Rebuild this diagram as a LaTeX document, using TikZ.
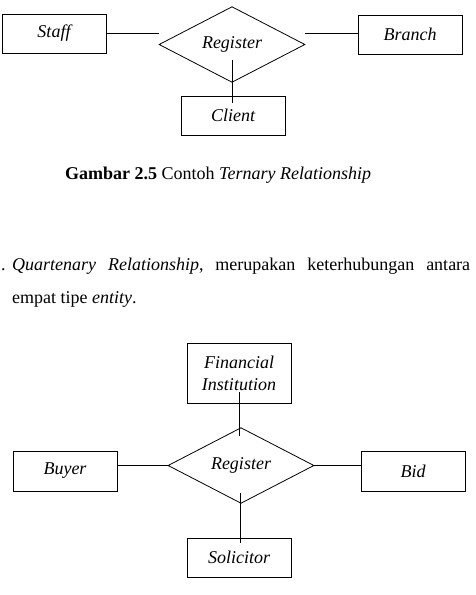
\documentclass[tikz,border=0pt]{standalone}
\usepackage{fontspec}
\setmainfont{Liberation Serif}
\usetikzlibrary{shapes.geometric}
\begin{document}
\begin{tikzpicture}[x=1pt,y=-1pt,
  every node/.style={font=\fontsize{18}{22}\selectfont},
  entity/.style={draw,line width=0.8pt,minimum width=104pt,minimum height=39pt,inner sep=0pt,font=\fontsize{18}{22}\selectfont\itshape,align=center},
  rel/.style={draw,diamond,line width=0.8pt,minimum width=146pt,minimum height=71pt,inner sep=0pt,font=\fontsize{18}{22}\selectfont\itshape},
  conn/.style={line width=0.8pt},
  txt/.style={inner sep=0pt,anchor=base west}]
\useasboundingbox (0,0) rectangle (476,595);
% top diagram
\node[entity] (staff) at (54,33.5) {Staff};
\node[entity] (branch) at (410,34.5) {Branch};
\node[entity] (client) at (233,115.5) {Client};
\node[rel] (reg) at (232,44.5) {\raisebox{2pt}{Register}};
\coordinate (t1) at (232,60);
\coordinate (t2) at (232,103);
\draw[conn] (staff.east) -- (staff.east -| reg.west);
\draw[conn] (branch.west |- staff.east) -- (staff.east -| reg.east);
\draw[conn] (t1) -- (t2);
% caption
\node[txt] (cap) at (65,179) {\textbf{Gambar 2.5} Contoh \textit{Ternary Relationship}};
% paragraph
\node[txt] (dot) at (1,270) {.};
\node[txt] (p1) at (12,270) {\makebox[458pt][s]{\textit{Quartenary} \textit{Relationship},\ merupakan keterhubungan antara}};
\node[txt] (p2) at (12,303) {empat tipe \textit{entity}.};
% bottom diagram
\node[entity,minimum height=60pt] (fin) at (239,373) {Financial\\Institution};
\node[entity,minimum height=40pt] (buyer) at (65,471) {Buyer};
\node[entity,minimum height=40pt] (bid) at (413,471) {Bid};
\node[entity] (sol) at (239,557.5) {Solicitor};
\node[rel] (reg2) at (241,465.5) {\raisebox{3pt}{Register}};
\coordinate (b1) at (239,392);
\coordinate (b2) at (239,436);
\coordinate (b3) at (240,493);
\coordinate (b4) at (240,543);
\draw[conn] (buyer.east |- reg2.west) -- (reg2.west);
\draw[conn] (reg2.east) -- (bid.west |- reg2.east);
\draw[conn] (b1) -- (b2);
\draw[conn] (b3) -- (b4);
\end{tikzpicture}
\end{document}
